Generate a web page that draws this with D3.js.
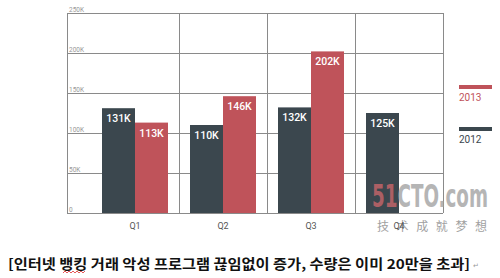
<!DOCTYPE html>
<html>
<head>
<meta charset="utf-8">
<script src="https://cdn.jsdelivr.net/npm/d3@7"></script>
<style>
  body { margin: 0; background: #fff; }
  svg { display: block; }
</style>
</head>
<body>
<div id="chart"></div>
<script>
var quarters = ["Q1", "Q2", "Q3", "Q4"];
var values2012 = [131, 110, 132, 125];
var values2013 = [113, 146, 202, null];
var yTicks = [0, 50, 100, 150, 200, 250];
var seriesNames = ["2012", "2013"];
var caption = "[인터넷 뱅킹 거래 악성 프로그램 끊임없이 증가, 수량은 이미 20만을 초과]";

var width = 500, height = 278;
var dark = "#3b474e", red = "#bf535a", gridColor = "#8a8a8a";
var left = 67, right = 443;

var svg = d3.select("#chart").append("svg")
    .attr("width", width)
    .attr("height", height);

var x = d3.scaleBand()
    .domain(quarters)
    .range([91, 443])
    .paddingInner(0.25)
    .paddingOuter(0.125);

var y = d3.scaleLinear()
    .domain([0, 250])
    .range([213, 13]);

var sub = d3.scaleBand()
    .domain(seriesNames)
    .range([0, x.bandwidth()]);

// grid
var grid = svg.append("g");
grid.selectAll("line.h")
    .data(yTicks)
    .enter().append("line")
    .attr("x1", left).attr("x2", right)
    .attr("y1", function(d) { return y(d) + 0.5; })
    .attr("y2", function(d) { return y(d) + 0.5; })
    .attr("stroke", gridColor).attr("stroke-width", 1);

var vx = [left].concat(quarters.map(function(q) { return x(q) + x.bandwidth() + (x.step() - x.bandwidth()) / 2; }));
grid.selectAll("line.v")
    .data(vx)
    .enter().append("line")
    .attr("x1", function(d) { return Math.round(d) + 0.5; })
    .attr("x2", function(d) { return Math.round(d) + 0.5; })
    .attr("y1", y(250)).attr("y2", y(0))
    .attr("stroke", gridColor).attr("stroke-width", 1);

grid.selectAll("text")
    .data(yTicks)
    .enter().append("text")
    .attr("x", left + 2)
    .attr("y", function(d) { return y(d) - 1.5; })
    .attr("font-family", "Roboto, sans-serif")
    .attr("font-size", 6.5)
    .attr("fill", "#999")
    .text(function(d) { return d === 0 ? "0" : d + "K"; });

// bars
var rows = [];
quarters.forEach(function(q, i) {
    rows.push({q: q, s: "2012", v: values2012[i], c: dark});
    if (values2013[i] != null) rows.push({q: q, s: "2013", v: values2013[i], c: red});
});

var bars = svg.append("g");
bars.selectAll("rect")
    .data(rows)
    .enter().append("rect")
    .attr("x", function(d) { return x(d.q) + sub(d.s); })
    .attr("y", function(d) { return y(d.v); })
    .attr("width", sub.bandwidth())
    .attr("height", function(d) { return y(0) - y(d.v); })
    .attr("fill", function(d) { return d.c; });

bars.selectAll("text")
    .data(rows)
    .enter().append("text")
    .attr("x", function(d) { return x(d.q) + sub(d.s) + sub.bandwidth() / 2; })
    .attr("y", function(d) { return y(d.v) + 14; })
    .attr("text-anchor", "middle")
    .attr("font-family", "Roboto, sans-serif")
    .attr("font-weight", 500)
    .attr("font-size", 10.5)
    .attr("fill", "#fff")
    .text(function(d) { return d.v + "K"; });

// watermark (sits over the Q4 area, as in the source image)
var wm = svg.append("g").attr("opacity", 0.8);
wm.append("text")
    .attr("x", 372).attr("y", 207)
    .attr("font-family", "'Liberation Sans Narrow', 'DejaVu Sans Condensed', sans-serif")
    .attr("font-weight", "bold")
    .attr("font-size", 32)
    .attr("textLength", 116)
    .attr("lengthAdjust", "spacingAndGlyphs")
    .attr("fill", "#a3a3a3")
    .html('<tspan fill="#c9656a">51</tspan>CTO.com');
wm.append("text")
    .attr("x", 377).attr("y", 231)
    .attr("font-family", "'Noto Sans CJK SC', sans-serif")
    .attr("font-size", 12)
    .attr("textLength", 110)
    .attr("fill", "#8a8a8a")
    .text("技术成就梦想");

// x labels
svg.append("g").selectAll("text")
    .data(quarters)
    .enter().append("text")
    .attr("x", function(d) { return x(d) + x.bandwidth() / 2; })
    .attr("y", 229)
    .attr("text-anchor", "middle")
    .attr("font-family", "Roboto, sans-serif")
    .attr("font-size", 9)
    .attr("fill", "#555")
    .text(function(d) { return d; });

// legend
var legend = [{name: "2013", c: red, y: 85}, {name: "2012", c: dark, y: 127}];
var lg = svg.append("g").selectAll("g")
    .data(legend)
    .enter().append("g");
lg.append("rect")
    .attr("x", 459).attr("y", function(d) { return d.y; })
    .attr("width", 33).attr("height", 4)
    .attr("fill", function(d) { return d.c; });
lg.append("text")
    .attr("x", 459).attr("y", function(d) { return d.y + 16; })
    .attr("font-family", "Roboto, sans-serif")
    .attr("font-size", 10)
    .attr("fill", function(d) { return d.c; })
    .text(function(d) { return d.name; });

// caption
svg.append("text")
    .attr("x", 8).attr("y", 269)
    .attr("font-family", "'Noto Sans CJK KR', sans-serif")
    .attr("font-weight", "bold")
    .attr("font-size", 13.5)
    .attr("textLength", 462)
    .attr("lengthAdjust", "spacingAndGlyphs")
    .attr("fill", "#111")
    .text(caption);
// spell-check squiggle under 뱅킹
var sq = d3.range(63, 86, 2).map(function(px, i) { return [px, i % 2 ? 271 : 273]; });
svg.append("path")
    .attr("d", d3.line()(sq))
    .attr("fill", "none")
    .attr("stroke", "#e03030")
    .attr("stroke-width", 0.8);
svg.append("text")
    .attr("x", 473).attr("y", 268)
    .attr("font-family", "DejaVu Sans, sans-serif")
    .attr("font-size", 7)
    .attr("fill", "#999")
    .text("↵");
</script>
</body>
</html>
